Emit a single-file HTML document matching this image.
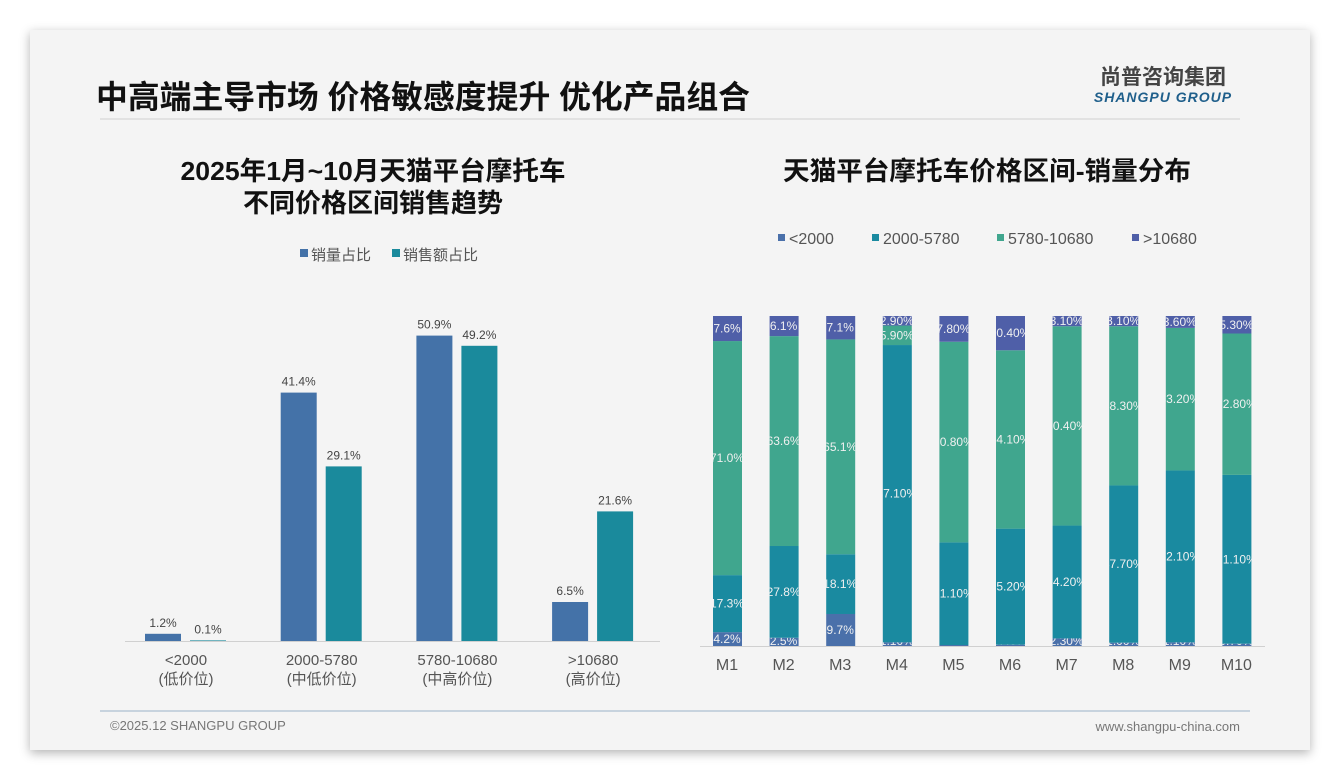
<!DOCTYPE html>
<html><head><meta charset="utf-8">
<style>
html,body{margin:0;padding:0;background:#fff;}
body{width:1340px;height:780px;position:relative;overflow:hidden;font-family:"Liberation Sans","Noto Sans CJK SC",sans-serif;}
#card{position:absolute;left:30px;top:30px;width:1280px;height:720px;background:#f4f4f4;box-shadow:0 3px 10px rgba(0,0,0,0.3);}
</style></head>
<body>
<div id="card"></div>
<svg id="svg" width="1340" height="780" style="position:absolute;left:0;top:0" font-family="Liberation Sans, Noto Sans CJK SC, sans-serif">
  <text x="96" y="108" font-size="32" font-weight="bold" fill="#111" textLength="654" lengthAdjust="spacingAndGlyphs">中高端主导市场 价格敏感度提升 优化产品组合</text>
  <text x="1163" y="84" font-size="21" font-weight="bold" fill="#444" text-anchor="middle">尚普咨询集团</text>
  <text x="1163" y="102" font-size="14" font-weight="bold" font-style="italic" fill="#1f5f8b" text-anchor="middle" letter-spacing="1">SHANGPU GROUP</text>
  <line x1="100" y1="119" x2="1240" y2="119" stroke="#dcdcdc" stroke-width="1.5"/>
  <text x="373" y="180" font-size="26" font-weight="bold" fill="#111" text-anchor="middle" textLength="385" lengthAdjust="spacingAndGlyphs">2025年1月~10月天猫平台摩托车</text>
  <text x="373" y="212" font-size="26" font-weight="bold" fill="#111" text-anchor="middle">不同价格区间销售趋势</text>
  <text x="987" y="180" font-size="26" font-weight="bold" fill="#111" text-anchor="middle" textLength="408" lengthAdjust="spacingAndGlyphs">天猫平台摩托车价格区间-销量分布</text>
  <g font-size="15" fill="#555">
    <rect x="300" y="249" width="8" height="8" fill="#4472a8"/><text x="311" y="260">销量占比</text>
    <rect x="392" y="249" width="8" height="8" fill="#1a8a9c"/><text x="403" y="260">销售额占比</text>
  </g>
  <g font-size="16" fill="#555">
    <rect x="778" y="234" width="7" height="7" fill="#4a70aa"/><text x="789" y="244">&lt;2000</text>
    <rect x="872" y="234" width="7" height="7" fill="#1a8aa0"/><text x="883" y="244">2000-5780</text>
    <rect x="997" y="234" width="7" height="7" fill="#40a68e"/><text x="1008" y="244">5780-10680</text>
    <rect x="1132" y="234" width="7" height="7" fill="#4f5fa8"/><text x="1143" y="244">&gt;10680</text>
  </g>
  <g id="left"></g>
  <g id="right"></g>
  <line x1="100" y1="711" x2="1250" y2="711" stroke="#b8c8d6" stroke-width="1.5"/>
  <text x="110" y="730" font-size="13" fill="#777">©2025.12 SHANGPU GROUP</text>
  <text x="1240" y="731" font-size="13" fill="#777" text-anchor="end">www.shangpu-china.com</text>
</svg>
<script>
const leftCats = ['<2000','2000-5780','5780-10680','>10680'];
const leftSub = ['(低价位)','(中低价位)','(中高价位)','(高价位)'];
const volShare = [1.2, 41.4, 50.9, 6.5];
const salesShare = [0.1, 29.1, 49.2, 21.6];

const months = ['M1','M2','M3','M4','M5','M6','M7','M8','M9','M10'];
const segLow = [4.2, 2.5, 9.7, 1.1, 0.3, 0.4, 2.3, 1.0, 1.1, 0.7];
const segMid = [17.3, 27.8, 18.1, 90.1, 31.1, 35.2, 34.2, 47.7, 52.1, 51.1];
const segHigh = [71.0, 63.6, 65.1, 5.9, 60.8, 54.1, 60.4, 48.3, 43.2, 42.8];
const segTop = [7.6, 6.1, 7.1, 2.9, 7.8, 10.4, 3.1, 3.1, 3.6, 5.3];
const segLabels = [
 ['4.2%','2.5%','9.7%','1.10%','0.30%','0.40%','2.30%','1.00%','1.10%','0.70%'],
 ['17.3%','27.8%','18.1%','87.10%','31.10%','35.20%','34.20%','47.70%','52.10%','51.10%'],
 ['71.0%','63.6%','65.1%','5.90%','60.80%','54.10%','60.40%','48.30%','43.20%','42.80%'],
 ['7.6%','6.1%','7.1%','2.90%','7.80%','10.40%','3.10%','3.10%','3.60%','5.30%']
];

const NS='http://www.w3.org/2000/svg';
function mk(tag, attrs, parent){const e=document.createElementNS(NS,tag);for(const k in attrs)e.setAttribute(k,attrs[k]);parent.appendChild(e);return e;}

const L = document.getElementById('left');
const base = 641, pxPer = 6.0;
const yL = v => base - v*pxPer;
const xGroup = i => 186 + i*135.7;
mk('line',{x1:125,y1:base+0.5,x2:660,y2:base+0.5,stroke:'#d0d0d0','stroke-width':1},L);
leftCats.forEach((c,i)=>{
  const cx = xGroup(i);
  const b1 = mk('rect',{x:cx-41,y:yL(volShare[i]),width:36,height:volShare[i]*pxPer,fill:'#4472a8'},L);
  
  
  const b2 = mk('rect',{x:cx+4,y:yL(salesShare[i]),width:36,height:salesShare[i]*pxPer,fill:'#1a8a9c'},L);
  
  
  const t1 = mk('text',{x:cx-23,y:yL(volShare[i])-7,'font-size':12,fill:'#444','text-anchor':'middle'},L);
  t1.textContent = volShare[i].toFixed(1)+'%';
  
  
  const t2 = mk('text',{x:cx+22,y:yL(salesShare[i])-7,'font-size':12,fill:'#444','text-anchor':'middle'},L);
  t2.textContent = salesShare[i].toFixed(1)+'%';
  
  
  const c1 = mk('text',{x:cx,y:665,'font-size':15,fill:'#555','text-anchor':'middle'},L);
  c1.textContent = c;
  
  
  const c2 = mk('text',{x:cx,y:684,'font-size':15,fill:'#555','text-anchor':'middle'},L);
  c2.textContent = leftSub[i];
  
  
});

const R = document.getElementById('right');
const rTop = 316, rBot = 646, rH = rBot - rTop;
const xM = i => 727 + i*56.6;
const colors = ['#4a70aa','#1a8aa0','#40a68e','#4f5fa8'];
const series = [segLow, segMid, segHigh, segTop];
mk('line',{x1:700,y1:rBot+0.5,x2:1265,y2:rBot+0.5,stroke:'#d0d0d0','stroke-width':1},R);
const defs = mk('defs',{},R);
months.forEach((m,i)=>{
  const cx = xM(i);
  const cp = mk('clipPath',{id:'clip'+i},defs);
  mk('rect',{x:cx-14,y:rTop-5,width:29,height:rH+5},cp);
  let total = series.reduce((s,a)=>s+a[i],0);
  let acc = 0;
  series.forEach((arr,s)=>{
    const h = arr[i]/total*rH;
    const y = rBot - acc - h;
    const r = mk('rect',{x:cx-14,y:y,width:29,height:h,fill:colors[s]},R);
    
    
    const t = mk('text',{x:cx,y:Math.min(y+h/2+4, rBot-1),'font-size':12,fill:'#f0f0f0','text-anchor':'middle','clip-path':'url(#clip'+i+')'},R);
    t.textContent = segLabels[s][i];
    
    
    acc += h;
  });
  const ml = mk('text',{x:cx,y:670,'font-size':16,fill:'#555','text-anchor':'middle'},R);
  ml.textContent = m;
  
  
});
</script>
</body></html>
